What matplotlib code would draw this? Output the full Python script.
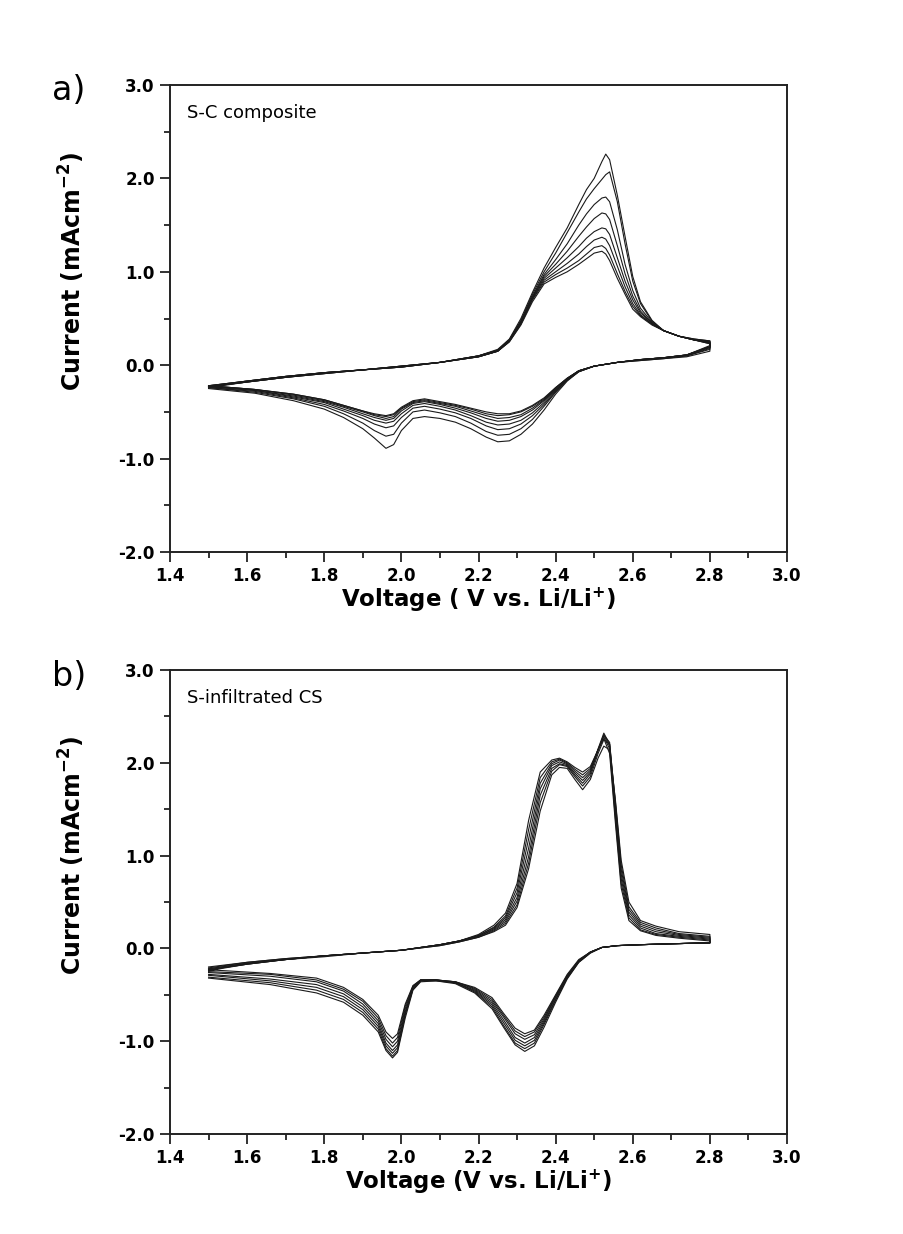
import matplotlib
matplotlib.use("Agg")
import matplotlib.pyplot as plt
from matplotlib.ticker import MultipleLocator, FormatStrFormatter

plt.rcParams['font.family'] = ['DejaVu Sans']
plt.rcParams['axes.unicode_minus'] = False
plt.rcParams['mathtext.fontset'] = 'dejavusans'

# ---------------- Panel a: S-C composite ----------------
V_up_a = [1.50, 1.60, 1.70, 1.80, 1.90, 2.00, 2.10, 2.20, 2.25, 2.28, 2.31, 2.34, 2.37, 2.40, 2.43,
          2.46, 2.48, 2.50, 2.52, 2.53, 2.54, 2.56, 2.58, 2.60, 2.62, 2.65, 2.68, 2.72, 2.76, 2.80]
I_up_a = [
    [-0.22,-0.17,-0.12,-0.08,-0.05,-0.01,0.03,0.10,0.17, 0.28,0.50,0.78,1.04,1.26,1.47,1.72,1.88,2.00,2.18,2.26, 2.20,1.82,1.38,0.95,0.68,0.48,0.37,0.31,0.28,0.26],
    [-0.22,-0.17,-0.12,-0.08,-0.05,-0.01,0.03,0.10,0.16, 0.27,0.48,0.76,1.00,1.20,1.42,1.64,1.78,1.89,1.99,2.04, 2.07,1.75,1.30,0.90,0.66,0.47,0.37,0.31,0.28,0.26],
    [-0.22,-0.17,-0.12,-0.08,-0.05,-0.01,0.03,0.10,0.16, 0.27,0.47,0.74,0.97,1.13,1.30,1.50,1.62,1.72,1.79,1.80, 1.75,1.45,1.08,0.80,0.61,0.46,0.37,0.31,0.27,0.25],
    [-0.23,-0.17,-0.12,-0.08,-0.05,-0.01,0.03,0.10,0.16, 0.27,0.46,0.73,0.95,1.08,1.22,1.38,1.48,1.57,1.63,1.62, 1.56,1.28,0.98,0.74,0.58,0.45,0.37,0.31,0.27,0.25],
    [-0.23,-0.18,-0.13,-0.08,-0.05,-0.02,0.03,0.09,0.15, 0.26,0.46,0.72,0.93,1.04,1.15,1.27,1.36,1.43,1.47,1.46, 1.40,1.15,0.90,0.70,0.56,0.45,0.37,0.31,0.27,0.24],
    [-0.23,-0.18,-0.13,-0.09,-0.05,-0.02,0.03,0.09,0.15, 0.26,0.45,0.71,0.91,1.00,1.09,1.19,1.27,1.34,1.37,1.35, 1.28,1.06,0.84,0.66,0.54,0.44,0.37,0.31,0.27,0.24],
    [-0.23,-0.18,-0.13,-0.09,-0.05,-0.02,0.03,0.09,0.15, 0.25,0.44,0.70,0.89,0.97,1.04,1.12,1.19,1.26,1.28,1.25, 1.18,0.98,0.79,0.63,0.53,0.44,0.37,0.31,0.27,0.23],
    [-0.24,-0.18,-0.13,-0.09,-0.05,-0.02,0.03,0.09,0.15, 0.25,0.43,0.68,0.87,0.94,1.00,1.08,1.14,1.20,1.22,1.19, 1.12,0.93,0.76,0.60,0.52,0.43,0.37,0.31,0.27,0.23],
]
V_dn_a = [2.80, 2.74, 2.68, 2.62, 2.56, 2.50, 2.46, 2.43, 2.40, 2.37, 2.34, 2.31, 2.28, 2.25, 2.22,
          2.18, 2.14, 2.10, 2.06, 2.03, 2.00, 1.98, 1.96, 1.93, 1.90, 1.85, 1.80, 1.72, 1.62, 1.50]
I_dn_a = [
    [0.15,0.09,0.07,0.05,0.03,-0.01,-0.07,-0.17,-0.31,-0.48,-0.63,-0.74,-0.81,-0.82,-0.77,-0.68,-0.61,-0.57,-0.55,-0.57,-0.70,-0.85,-0.89,-0.78,-0.68,-0.56,-0.47,-0.38,-0.30,-0.25],
    [0.17,0.10,0.07,0.05,0.03,-0.01,-0.07,-0.16,-0.29,-0.44,-0.58,-0.68,-0.74,-0.75,-0.71,-0.62,-0.55,-0.51,-0.48,-0.50,-0.62,-0.74,-0.76,-0.70,-0.62,-0.52,-0.44,-0.36,-0.29,-0.24],
    [0.18,0.10,0.08,0.06,0.03,-0.01,-0.07,-0.16,-0.28,-0.42,-0.54,-0.63,-0.68,-0.69,-0.65,-0.57,-0.51,-0.47,-0.44,-0.46,-0.56,-0.65,-0.67,-0.63,-0.57,-0.49,-0.42,-0.35,-0.28,-0.24],
    [0.19,0.11,0.08,0.06,0.03,-0.01,-0.06,-0.15,-0.27,-0.40,-0.51,-0.59,-0.63,-0.64,-0.61,-0.54,-0.48,-0.44,-0.41,-0.43,-0.52,-0.60,-0.62,-0.59,-0.54,-0.47,-0.40,-0.34,-0.27,-0.23],
    [0.19,0.11,0.08,0.06,0.03,-0.01,-0.06,-0.15,-0.26,-0.38,-0.48,-0.55,-0.59,-0.60,-0.57,-0.51,-0.46,-0.42,-0.39,-0.41,-0.49,-0.57,-0.59,-0.56,-0.52,-0.45,-0.39,-0.33,-0.27,-0.23],
    [0.20,0.11,0.08,0.06,0.03,-0.01,-0.06,-0.14,-0.25,-0.37,-0.46,-0.53,-0.56,-0.57,-0.54,-0.49,-0.44,-0.41,-0.38,-0.40,-0.47,-0.55,-0.57,-0.54,-0.50,-0.44,-0.38,-0.32,-0.26,-0.22],
    [0.20,0.11,0.08,0.06,0.03,-0.01,-0.06,-0.14,-0.24,-0.36,-0.44,-0.50,-0.53,-0.54,-0.52,-0.47,-0.43,-0.40,-0.37,-0.39,-0.46,-0.53,-0.55,-0.53,-0.49,-0.43,-0.37,-0.31,-0.26,-0.22],
    [0.21,0.11,0.08,0.06,0.03,-0.01,-0.06,-0.14,-0.24,-0.35,-0.43,-0.49,-0.52,-0.52,-0.50,-0.46,-0.42,-0.39,-0.36,-0.38,-0.45,-0.52,-0.54,-0.52,-0.49,-0.43,-0.37,-0.31,-0.26,-0.22],
]

# ---------------- Panel b: S-infiltrated CS ----------------
V_up_b = [1.50, 1.60, 1.70, 1.80, 1.90, 2.00, 2.10, 2.15, 2.20, 2.24, 2.27, 2.30, 2.33, 2.36, 2.39,
          2.41, 2.43, 2.45, 2.47, 2.49, 2.51, 2.525, 2.54, 2.555, 2.57, 2.59, 2.62, 2.66, 2.72, 2.80]
I_up_b = [
    [-0.20,-0.15,-0.11,-0.08,-0.05,-0.02,0.04,0.08,0.15, 0.25,0.38,0.70,1.38,1.90,2.03,2.05,2.01,1.95,1.90,1.96,2.14,2.26,2.10,1.35,0.65,0.30,0.19,0.14,0.11,0.08],
    [-0.21,-0.15,-0.11,-0.08,-0.05,-0.02,0.04,0.08,0.14, 0.23,0.35,0.65,1.28,1.84,2.01,2.04,2.00,1.93,1.87,1.94,2.14,2.28,2.15,1.40,0.70,0.33,0.20,0.15,0.12,0.09],
    [-0.22,-0.16,-0.12,-0.08,-0.05,-0.02,0.04,0.08,0.14, 0.22,0.33,0.60,1.18,1.78,1.99,2.03,1.99,1.91,1.84,1.92,2.14,2.30,2.18,1.45,0.75,0.36,0.22,0.16,0.13,0.10],
    [-0.22,-0.16,-0.12,-0.08,-0.05,-0.02,0.04,0.08,0.13, 0.21,0.31,0.55,1.08,1.72,1.97,2.01,1.98,1.89,1.81,1.90,2.15,2.32,2.20,1.50,0.80,0.39,0.24,0.18,0.14,0.11],
    [-0.23,-0.17,-0.12,-0.08,-0.05,-0.02,0.04,0.08,0.13, 0.20,0.29,0.51,0.99,1.65,1.94,1.99,1.97,1.87,1.78,1.88,2.13,2.30,2.22,1.55,0.85,0.42,0.26,0.20,0.15,0.12],
    [-0.23,-0.17,-0.12,-0.08,-0.05,-0.02,0.03,0.07,0.12, 0.19,0.27,0.47,0.92,1.57,1.91,1.98,1.96,1.85,1.75,1.85,2.10,2.25,2.20,1.58,0.90,0.45,0.28,0.22,0.16,0.13],
    [-0.24,-0.17,-0.12,-0.09,-0.05,-0.02,0.03,0.07,0.12, 0.18,0.25,0.44,0.86,1.48,1.87,1.95,1.94,1.82,1.71,1.82,2.05,2.18,2.14,1.60,0.95,0.50,0.30,0.24,0.18,0.15],
]
V_dn_b = [2.80, 2.70, 2.62, 2.56, 2.52, 2.49, 2.46, 2.43, 2.40, 2.37, 2.345, 2.32, 2.295, 2.265, 2.235,
          2.19, 2.14, 2.09, 2.05, 2.03, 2.01, 1.99, 1.977, 1.96, 1.94, 1.90, 1.85, 1.78, 1.66, 1.50]
I_dn_b = [
    [0.06,0.05,0.04,0.03,0.01,-0.05,-0.15,-0.33,-0.58,-0.85,-1.05,-1.11,-1.04,-0.85,-0.65,-0.48,-0.38,-0.35,-0.36,-0.45,-0.75,-1.12,-1.18,-1.10,-0.90,-0.72,-0.58,-0.48,-0.39,-0.32],
    [0.06,0.05,0.04,0.03,0.01,-0.05,-0.15,-0.32,-0.56,-0.82,-1.02,-1.08,-1.02,-0.83,-0.63,-0.47,-0.37,-0.35,-0.35,-0.44,-0.72,-1.10,-1.16,-1.08,-0.87,-0.69,-0.55,-0.45,-0.37,-0.31],
    [0.06,0.05,0.04,0.03,0.01,-0.04,-0.14,-0.31,-0.55,-0.80,-0.99,-1.05,-0.99,-0.80,-0.61,-0.46,-0.37,-0.34,-0.35,-0.43,-0.70,-1.07,-1.13,-1.05,-0.84,-0.66,-0.52,-0.42,-0.35,-0.29],
    [0.06,0.05,0.04,0.03,0.01,-0.04,-0.14,-0.30,-0.53,-0.78,-0.96,-1.02,-0.96,-0.77,-0.59,-0.45,-0.37,-0.34,-0.34,-0.42,-0.68,-1.04,-1.10,-1.02,-0.81,-0.63,-0.49,-0.39,-0.33,-0.28],
    [0.06,0.05,0.04,0.03,0.01,-0.04,-0.13,-0.30,-0.52,-0.76,-0.93,-0.98,-0.92,-0.74,-0.57,-0.44,-0.36,-0.34,-0.34,-0.41,-0.65,-1.00,-1.06,-0.98,-0.78,-0.60,-0.46,-0.36,-0.30,-0.26],
    [0.06,0.05,0.04,0.03,0.01,-0.04,-0.13,-0.29,-0.51,-0.74,-0.90,-0.95,-0.89,-0.72,-0.55,-0.43,-0.36,-0.34,-0.34,-0.41,-0.62,-0.96,-1.02,-0.94,-0.75,-0.57,-0.44,-0.34,-0.28,-0.25],
    [0.06,0.05,0.04,0.03,0.01,-0.04,-0.12,-0.28,-0.50,-0.72,-0.88,-0.92,-0.86,-0.70,-0.53,-0.42,-0.36,-0.34,-0.34,-0.40,-0.60,-0.92,-0.97,-0.90,-0.72,-0.55,-0.42,-0.32,-0.27,-0.23],
]

x_ticks = [1.4, 1.6, 1.8, 2.0, 2.2, 2.4, 2.6, 2.8, 3.0]
y_ticks = [-2.0, -1.0, 0.0, 1.0, 2.0, 3.0]

panels = [
    dict(rect=[170/904, 1-552/1234, 617/904, 467/1234], tag="a)", note="S-C composite",
         xlabel=r"Voltage ( V vs. Li/Li$^{\mathbf{+}}$)", Vu=V_up_a, Iu=I_up_a, Vd=V_dn_a, Id=I_dn_a),
    dict(rect=[170/904, 1-1134/1234, 617/904, 464/1234], tag="b)", note="S-infiltrated CS",
         xlabel=r"Voltage (V vs. Li/Li$^{\mathbf{+}}$)", Vu=V_up_b, Iu=I_up_b, Vd=V_dn_b, Id=I_dn_b),
]

fig = plt.figure(figsize=(9.04, 12.34), dpi=100)
for p in panels:
    ax = fig.add_axes(p["rect"])
    hpx = p["rect"][3] * 1234
    for iu, idn in zip(p["Iu"], p["Id"]):
        ax.plot(list(p["Vu"]) + list(p["Vd"]), list(iu) + list(idn),
                color="#1a1a1a", lw=0.8, solid_joinstyle="round")
    ax.set_xlim(1.4, 3.0)
    ax.set_ylim(-2.0, 3.0)
    ax.set_xticks(x_ticks)
    ax.set_yticks(y_ticks)
    ax.xaxis.set_minor_locator(MultipleLocator(0.1))
    ax.yaxis.set_minor_locator(MultipleLocator(0.5))
    ax.xaxis.set_major_formatter(FormatStrFormatter("%.1f"))
    ax.yaxis.set_major_formatter(FormatStrFormatter("%.1f"))
    ax.tick_params(which="both", direction="out", top=False, right=False, width=1.3, color="#222222")
    ax.tick_params(which="major", length=7, labelsize=12, pad=4)
    ax.tick_params(which="minor", length=4)
    for lab in ax.get_xticklabels() + ax.get_yticklabels():
        lab.set_fontweight("bold")
    for s in ax.spines.values():
        s.set_linewidth(1.4)
        s.set_color("#222222")
    ax.set_xlabel(p["xlabel"], fontsize=16.5, fontweight="bold")
    ax.set_ylabel(r"Current (mAcm$^{\mathbf{-2}}$)", fontsize=17, fontweight="bold")
    ax.xaxis.set_label_coords(0.5, -48/hpx)
    ax.yaxis.set_label_coords(-98/617, 0.5 + 47/hpx)
    ax.xaxis.label.set_va("center")
    ax.yaxis.label.set_va("center")
    ax.text(17/617, 1 - 28/hpx, p["note"], transform=ax.transAxes, fontsize=13, va="center", ha="left")
    ax.text(-118/617, 1 - 6/hpx, p["tag"], transform=ax.transAxes, fontsize=24, va="center", ha="left")

fig.savefig("out.png", dpi=100, facecolor="white")
